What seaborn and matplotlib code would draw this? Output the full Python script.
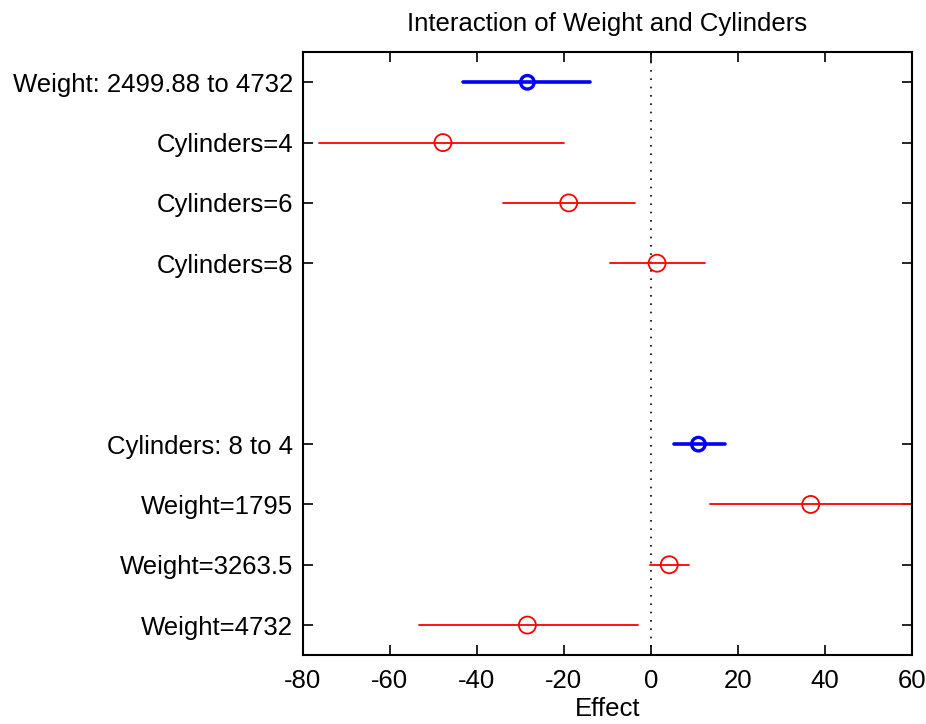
import matplotlib
matplotlib.use("Agg")
import matplotlib.pyplot as plt
import seaborn as sns
import pandas as pd
import numpy as np

# ---- data ----
main_labels = ["Weight: 2499.88 to 4732", "Cylinders: 8 to 4"]
main_effect = [-28.4, 10.9]
main_lo = [-43.2, 5.3]
main_hi = [-13.9, 16.9]

cond_labels_1 = ["Cylinders=4", "Cylinders=6", "Cylinders=8"]
cond_effect_1 = [-47.8, -18.9, 1.4]
cond_lo_1 = [-76.2, -34.0, -9.5]
cond_hi_1 = [-19.9, -3.7, 12.5]

cond_labels_2 = ["Weight=1795", "Weight=3263.5", "Weight=4732"]
cond_effect_2 = [36.7, 4.2, -28.4]
cond_lo_2 = [13.6, -0.2, -53.3]
cond_hi_2 = [62.0, 8.8, -3.0]

x_ticks = [-80, -60, -40, -20, 0, 20, 40, 60]

# ---- build table ----
rows = []
groups = [
    (main_labels[0], main_effect[0], main_lo[0], main_hi[0], cond_labels_1, cond_effect_1, cond_lo_1, cond_hi_1),
    (main_labels[1], main_effect[1], main_lo[1], main_hi[1], cond_labels_2, cond_effect_2, cond_lo_2, cond_hi_2),
]
pos = 1
for gi, (ml, me, mlo, mhi, cl, ce, clo, chi) in enumerate(groups):
    rows.append(dict(label=ml, effect=me, lo=mlo, hi=mhi, kind="main", y=pos))
    pos += 1
    for l, e, lo, hi in zip(cl, ce, clo, chi):
        rows.append(dict(label=l, effect=e, lo=lo, hi=hi, kind="cond", y=pos))
        pos += 1
    pos += 2
df = pd.DataFrame(rows)

seg = pd.concat([
    df.assign(x=df["lo"]),
    df.assign(x=df["hi"]),
]).sort_values(["y", "x"])

sns.set_style("ticks")
plt.rcParams["font.family"] = ["Liberation Sans", "DejaVu Sans"]
plt.rcParams["text.color"] = "black"
plt.rcParams["axes.labelcolor"] = "black"

FS = 18.5

fig = plt.figure(figsize=(9.26, 7.24), dpi=100)
ax = fig.add_axes([0.327, 0.095, 0.658, 0.833])

ax.axvline(0, color="black", linestyle=(0, (1, 4)), linewidth=1.2, zorder=1)

colors = {"main": "#0000ff", "cond": "#ff0000"}
widths = {"main": 2.6, "cond": 1.3}
for kind in ["cond", "main"]:
    sub = seg[seg["kind"] == kind]
    sns.lineplot(data=sub, x="x", y="y", units="label", estimator=None,
                 color=colors[kind], linewidth=widths[kind], sort=False,
                 ax=ax, legend=False, zorder=2)

sub = df[df["kind"] == "cond"]
sns.scatterplot(data=sub, x="effect", y="y", marker="o", s=150,
                facecolors="none", edgecolor=colors["cond"], linewidth=1.3,
                ax=ax, legend=False, zorder=3)
sub = df[df["kind"] == "main"]
sns.scatterplot(data=sub, x="effect", y="y", marker="o", s=95,
                facecolors="none", edgecolor=colors["main"], linewidth=2.4,
                ax=ax, legend=False, zorder=3)

ax.set_xlim(-80, 60)
ax.set_ylim(pos - 2 - 0.5, 0.5)
ax.set_xticks(x_ticks)
ax.set_xticklabels([str(t) for t in x_ticks], fontsize=FS)
ax.set_yticks(df["y"])
ax.set_yticklabels(df["label"], fontsize=FS)
ax.tick_params(axis="both", direction="in", length=7, width=1.2, top=True, right=True,
               colors="black")
ax.tick_params(axis="x", pad=10)
ax.tick_params(axis="y", pad=7)
for s in ax.spines.values():
    s.set_visible(True)
    s.set_linewidth(1.5)
    s.set_color("black")
ax.set_xlabel("Effect", fontsize=FS, labelpad=3, color="black")
ax.set_ylabel("")
ax.set_title("Interaction of Weight and Cylinders", fontsize=FS, pad=15, color="black")

fig.savefig("out.png", dpi=100, facecolor="white")
